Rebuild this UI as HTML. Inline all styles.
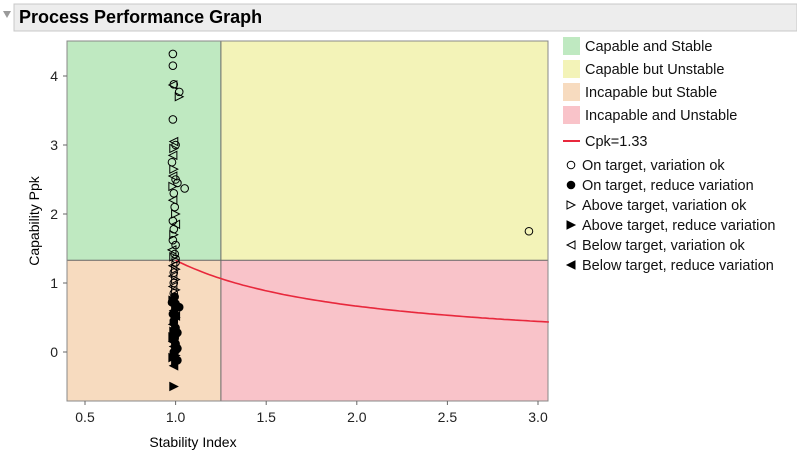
<!DOCTYPE html>
<html><head><meta charset="utf-8"><style>
body{margin:0;background:#fff;width:797px;height:458px;overflow:hidden;font-family:"Liberation Sans",sans-serif}
</style></head><body>
<svg width="797" height="458" xmlns="http://www.w3.org/2000/svg" font-family="Liberation Sans, sans-serif">
<rect x="14" y="4" width="783" height="27" fill="#ededed" stroke="#c8c8c8"/>
<polygon points="3,11 11,11 7,18" fill="#9a9a9a"/>
<text x="19" y="23" font-size="18" font-weight="bold" fill="#000">Process Performance Graph</text>
<g id="plot"></g>
<text x="193" y="447" font-size="14" text-anchor="middle">Stability Index</text>
<text transform="translate(39,221) rotate(-90)" font-size="14" text-anchor="middle">Capability Ppk</text>
<g id="legend"></g>
</svg>
<script>
const xTicks=[0.5,1.0,1.5,2.0,2.5,3.0];
const yTicks=[0,1,2,3,4];
const ptX=[0.985,0.985,0.99,0.985,1.02,1.02,0.985,0.99,1.0,0.99,0.985,0.98,0.99,0.985,1.0,1.01,0.985,1.05,0.99,0.985,0.995,1.0,0.985,1.0,0.99,0.99,0.985,1.0,0.98,0.995,0.99,1.0,2.95,
1.0,0.985,1.0,0.99,0.985,1.0,0.99,0.985,1.0,0.99,0.995,0.985,1.0,1.02,0.99,1.0,0.99,0.985,1.0,0.99,1.0,0.995,0.985,1.0,1.01,0.99,1.0,0.99,1.0,0.99,
0.98,1.0,0.985,1.0,0.99,1.01,0.985,1.0,0.99,1.0,0.985,1.01,0.99,1.0];
const ptY=[4.32,4.15,3.88,3.87,3.77,3.7,3.37,3.05,3.0,2.95,2.85,2.75,2.65,2.55,2.5,2.45,2.4,2.37,2.3,2.2,2.1,2.0,1.9,1.85,1.78,1.7,1.62,1.55,1.48,1.42,1.38,1.35,1.75,
1.3,1.25,1.2,1.15,1.1,1.05,1.0,0.95,0.9,0.85,0.8,0.75,0.7,0.65,0.6,0.5,0.45,0.4,0.35,0.3,0.25,0.2,0.15,0.1,0.05,0.0,-0.05,-0.1,-0.15,-0.5,
0.72,0.68,0.55,0.52,0.42,0.28,0.22,0.12,0.08,0.02,-0.08,-0.12,-0.2,0.32];
const ptType=['o','o','o','<','o','>','o','<','o','>','<','o','>','<','o','o','>','o','o','<','o','>','o','<','o','>','o','o','<','o','>','o','o',
'o','<','>','o','<','>','o','<','>','o','O','R','O','O','L','R','O','L','O','R','O','O','L','R','O','O','R','L','R','R',
'O','R','O','L','O','O','R','O','L','O','R','O','L','R'];
const cpk=1.33, stabCut=1.25;
const X0=67,X1=548,Y0=41,Y1=401;
const xs=v=>85+(v-0.5)*181.2;
const ys=v=>352-v*69;
const NS='http://www.w3.org/2000/svg';
const plot=document.getElementById('plot');
function mk(tag,at,parent){const e=document.createElementNS(NS,tag);for(const k in at)e.setAttribute(k,at[k]);(parent||plot).appendChild(e);return e;}
const xc=xs(stabCut),yc=ys(cpk);
let r;
r=mk('rect',{x:X0,y:Y0,width:xc-X0,height:yc-Y0,fill:'#bfe9c1'});


r=mk('rect',{x:xc,y:Y0,width:X1-xc,height:yc-Y0,fill:'#f3f3b8'});


r=mk('rect',{x:X0,y:yc,width:xc-X0,height:Y1-yc,fill:'#f7dbbf'});


r=mk('rect',{x:xc,y:yc,width:X1-xc,height:Y1-yc,fill:'#f9c3c9'});


mk('line',{x1:xc,y1:Y0,x2:xc,y2:Y1,stroke:'#666','stroke-width':1});
mk('line',{x1:X0,y1:yc,x2:X1,y2:yc,stroke:'#666','stroke-width':1});
r=mk('rect',{x:X0,y:Y0,width:X1-X0,height:Y1-Y0,fill:'none',stroke:'#888'});


let d='';for(let i=0;i<=100;i++){const x=1+i*(3.06-1)/100;d+=(i?'L':'M')+xs(x).toFixed(1)+','+ys(cpk/x).toFixed(1);}
r=mk('path',{d:d,fill:'none',stroke:'#e8283c','stroke-width':1.6});


xTicks.forEach(t=>{mk('line',{x1:xs(t),y1:Y1,x2:xs(t),y2:Y1+4,stroke:'#666'});
 const e=mk('text',{x:xs(t),y:Y1+21,'font-size':14,'text-anchor':'middle',fill:'#222'});e.textContent=t.toFixed(1);
 
 });
yTicks.forEach(t=>{mk('line',{x1:X0-4,y1:ys(t),x2:X0,y2:ys(t),stroke:'#666'});
 const e=mk('text',{x:X0-9,y:ys(t)+5,'font-size':14,'text-anchor':'end',fill:'#222'});e.textContent=t;
 
 });
function marker(t,cx,cy,par){const s=4;let e;
 if(t==='o'||t==='O')e=mk('circle',{cx:cx,cy:cy,r:3.8,fill:t==='O'?'#000':'none',stroke:'#000','stroke-width':1},par);
 else if(t==='>'||t==='R')e=mk('polygon',{points:`${cx-s},${cy-s} ${cx+s},${cy} ${cx-s},${cy+s}`,fill:t==='R'?'#000':'none',stroke:'#000'},par);
 else e=mk('polygon',{points:`${cx+s},${cy-s} ${cx-s},${cy} ${cx+s},${cy+s}`,fill:t==='L'?'#000':'none',stroke:'#000'},par);
 return e;}
ptX.forEach((v,i)=>{const e=marker(ptType[i],xs(v),ys(ptY[i]));
 
 });
const lg=document.getElementById('legend');
const sw=[['#bfe9c1','Capable and Stable'],['#f3f3b8','Capable but Unstable'],['#f7dbbf','Incapable but Stable'],['#f9c3c9','Incapable and Unstable']];
sw.forEach((s,i)=>{const y=37+i*23;mk('rect',{x:563,y:y,width:17,height:18,fill:s[0]},lg);
 const t=mk('text',{x:585,y:y+14,'font-size':14.5,fill:'#111'},lg);t.textContent=s[1];
 
 });
mk('line',{x1:563,y1:141,x2:580,y2:141,stroke:'#e8283c','stroke-width':2},lg);
let tt=mk('text',{x:585,y:146,'font-size':14.5,fill:'#111'},lg);tt.textContent='Cpk=1.33';


const mks=[['o','On target, variation ok'],['O','On target, reduce variation'],['>','Above target, variation ok'],['R','Above target, reduce variation'],['<','Below target, variation ok'],['L','Below target, reduce variation']];
mks.forEach((m,i)=>{const y=165+i*20;marker(m[0],571,y,lg);
 const t=mk('text',{x:582,y:y+5,'font-size':14.5,fill:'#111'},lg);t.textContent=m[1];
 
 });
</script>
</body></html>
